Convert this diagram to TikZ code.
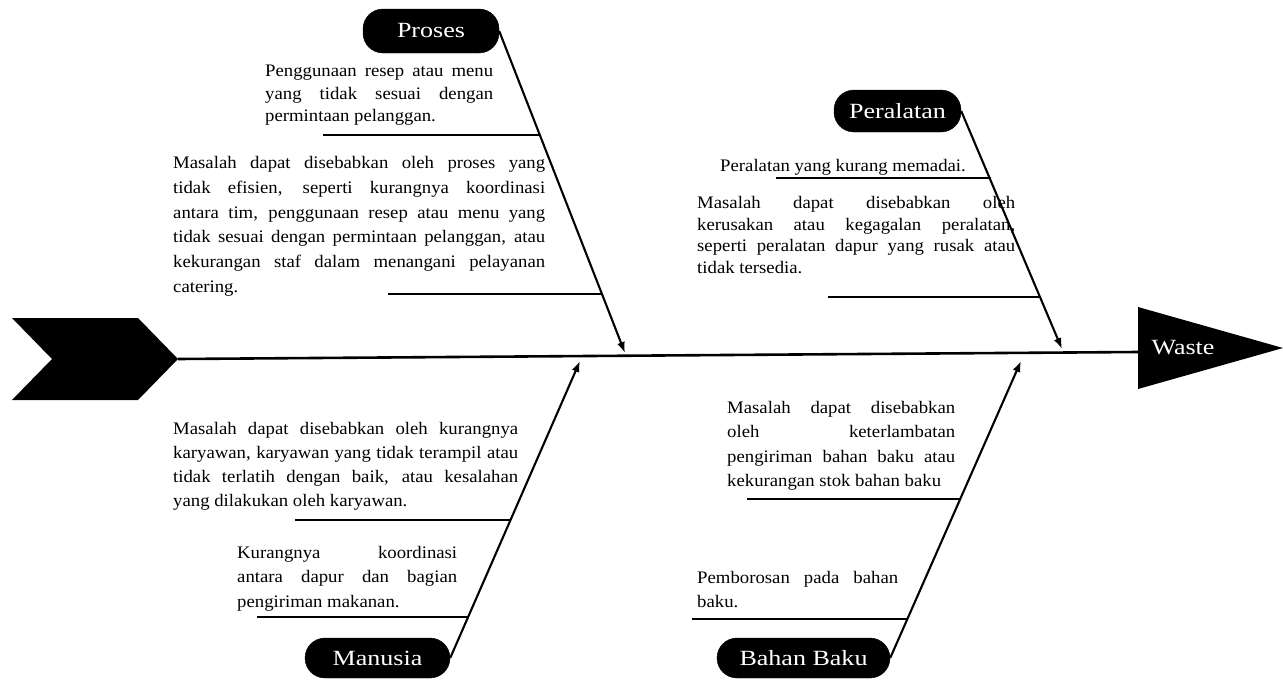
\documentclass[tikz,border=0pt]{standalone}
\usepackage{fontspec}
\setmainfont{Liberation Serif}[FakeStretch=1.065]
\newfontfamily\pillfont{Liberation Serif}[FakeStretch=1.2]
\usetikzlibrary{arrows.meta}
\newcommand{\JL}[2]{\makebox[#1pt][s]{#2}}
\begin{document}
\begin{tikzpicture}[x=1pt,y=-1pt,
  pill/.style={fill=black, draw=black, text=white, rounded corners=20pt, inner sep=0pt, font=\pillfont\fontsize{21.7}{26}\selectfont},
  txt/.style={anchor=north west, inner sep=0pt, align=left, text=black},
  bone/.style={line width=2.1pt, -{Latex[length=11pt,width=8pt]}},
  subline/.style={line width=2.7pt},
  spine/.style={line width=2.6pt},
]
\useasboundingbox (0,0) rectangle (1283,680);

% tail chevron and head triangle
\fill (12,318) -- (138,318) -- (178,359) -- (138,400) -- (12,400) -- (52,359) -- cycle;
\coordinate (tail) at (178,359);
\fill (1138,307) -- (1283,348) -- (1138,389) -- cycle;
\coordinate (head) at (1138,352);
\node[text=white, inner sep=0pt, font=\pillfont\fontsize{21.7}{26}\selectfont] (waste) at (1183,348) {Waste};
\draw[spine] (tail) -- (head);

% category pills
\node[pill, minimum width=136pt, minimum height=44pt] (proses) at (431,31) {Proses};
\node[pill, minimum width=127pt, minimum height=42pt] (peralatan) at (897.5,111) {Peralatan};
\node[pill, minimum width=145pt, minimum height=40pt] (manusia) at (377.5,658) {Manusia};
\node[pill, minimum width=173pt, minimum height=40pt] (bahan) at (803.5,658) {Bahan Baku};

% bone ends on the spine
\coordinate (pend) at (625,353);
\coordinate (eend) at (1062,349);
\coordinate (mend) at (580,361);
\coordinate (bend) at (1021,361);

\draw[bone] (proses.east) -- (pend);
\draw[bone] (peralatan.east) -- (eend);
\draw[bone] (manusia.east) -- (mend);
\draw[bone] (bahan.east) -- (bend);

% sub-cause lines
\coordinate (p1a) at (323,135); \coordinate (p1b) at (540,135);
\coordinate (p2a) at (388,294); \coordinate (p2b) at (602,294);
\coordinate (e1a) at (776,178); \coordinate (e1b) at (991,178);
\coordinate (e2a) at (828,297); \coordinate (e2b) at (1041,297);
\coordinate (m1a) at (295,520); \coordinate (m1b) at (511,520);
\coordinate (m2a) at (257,617); \coordinate (m2b) at (469,617);
\coordinate (b1a) at (747,499); \coordinate (b1b) at (960,499);
\coordinate (b2a) at (692,619); \coordinate (b2b) at (907,619);
\draw[subline] (p1a) -- (p1b);
\draw[subline] (p2a) -- (p2b);
\draw[subline] (e1a) -- (e1b);
\draw[subline] (e2a) -- (e2b);
\draw[subline] (m1a) -- (m1b);
\draw[subline] (m2a) -- (m2b);
\draw[subline] (b1a) -- (b1b);
\draw[subline] (b2a) -- (b2b);

% texts
\node[txt, font=\fontsize{17.6}{22.5}\selectfont] (pt1) at (265,65)
  {\JL{228}{Penggunaan resep atau menu}\\\JL{228}{yang tidak sesuai dengan}\\permintaan pelanggan.};
\node[txt, font=\fontsize{17.6}{24.8}\selectfont] (pt2) at (173,156)
  {\JL{372}{Masalah dapat disebabkan oleh proses yang}\\
   \JL{372}{tidak efisien, seperti kurangnya koordinasi}\\
   \JL{372}{antara tim, penggunaan resep atau menu yang}\\
   \JL{372}{tidak sesuai dengan permintaan pelanggan, atau}\\
   \JL{372}{kekurangan staf dalam menangani pelayanan}\\
   catering.};
\node[txt, font=\fontsize{17.6}{22}\selectfont] (et1) at (720,159) {Peralatan yang kurang memadai.};
\node[txt, font=\fontsize{17.6}{21.7}\selectfont] (et2) at (697,196)
  {\JL{318}{Masalah dapat disebabkan oleh}\\
   \JL{318}{kerusakan atau kegagalan peralatan,}\\
   \JL{318}{seperti peralatan dapur yang rusak atau}\\
   tidak tersedia.};
\node[txt, font=\fontsize{17.6}{24}\selectfont] (mt1) at (173,422)
  {\JL{345}{Masalah dapat disebabkan oleh kurangnya}\\
   \JL{345}{karyawan, karyawan yang tidak terampil atau}\\
   \JL{345}{tidak terlatih dengan baik, atau kesalahan}\\
   yang dilakukan oleh karyawan.};
\node[txt, font=\fontsize{17.6}{24.5}\selectfont] (mt2) at (237,546)
  {\JL{220}{Kurangnya koordinasi}\\
   \JL{220}{antara dapur dan bagian}\\
   pengiriman makanan.};
\node[txt, font=\fontsize{17.6}{24.3}\selectfont] (bt1) at (727,401)
  {\JL{228}{Masalah dapat disebabkan}\\
   \JL{228}{oleh keterlambatan}\\
   \JL{228}{pengiriman bahan baku atau}\\
   kekurangan stok bahan baku};
\node[txt, font=\fontsize{17.6}{24}\selectfont] (bt2) at (697,571)
  {\JL{201}{Pemborosan pada bahan}\\
   baku.};
\end{tikzpicture}
\end{document}
